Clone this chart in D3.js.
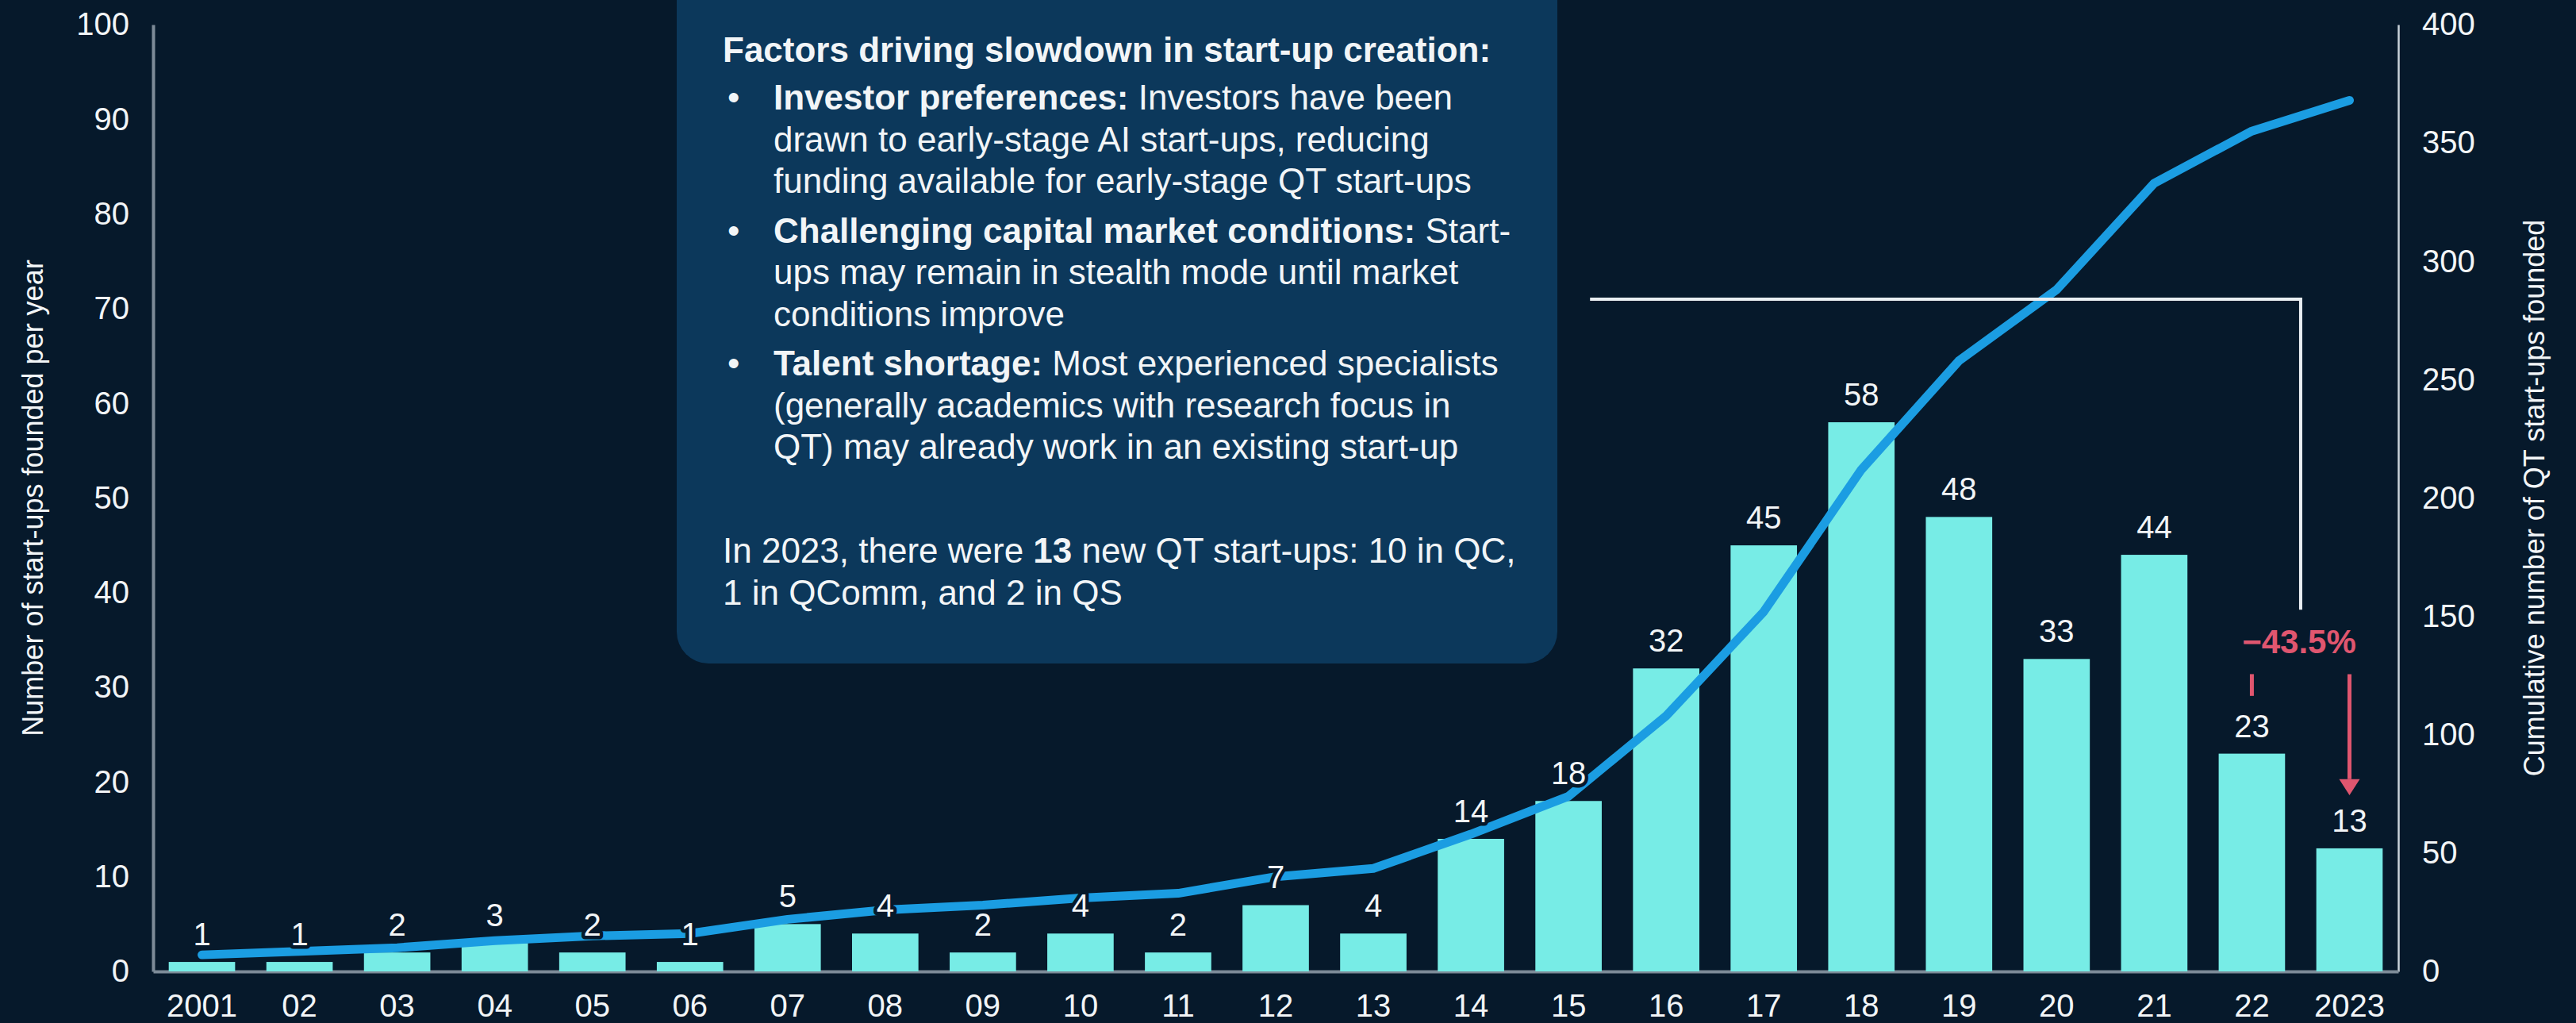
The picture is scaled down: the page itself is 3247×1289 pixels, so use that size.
<!DOCTYPE html>
<html>
<head>
<meta charset="utf-8">
<script src="https://cdn.jsdelivr.net/npm/d3@7"></script>
<style>
  html, body { margin: 0; padding: 0; background: #06192b; }
  svg { display: block; }
  text { font-family: "Liberation Sans", Arial, sans-serif; }
</style>
</head>
<body>
<svg id="chart" width="3247" height="1289"></svg>
<script>
// ---------------- DATA ----------------
const years = ["2001","02","03","04","05","06","07","08","09","10","11","12","13","14","15","16","17","18","19","20","21","22","2023"];
const perYear = [1,1,2,3,2,1,5,4,2,4,2,7,4,14,18,32,45,58,48,33,44,23,13];
const cumulative = [7,8.5,10,13,15,16,22,26,28,31,33,40,43.5,58,74,108,152,212,258,288,333,355,368];
const leftTicks = [0,10,20,30,40,50,60,70,80,90,100];
const rightTicks = [0,50,100,150,200,250,300,350,400];
const leftTitle = "Number of start-ups founded per year";
const rightTitle = "Cumulative number of QT start-ups founded";
const changeLabel = "\u221243.5%";
const boxTitle = "Factors driving slowdown in start-up creation:";
const boxBullets = [
  [[["Investor preferences:", true], [" Investors have been", false]],
   [["drawn to early-stage AI start-ups, reducing", false]],
   [["funding available for early-stage QT start-ups", false]]],
  [[["Challenging capital market conditions:", true], [" Start-", false]],
   [["ups may remain in stealth mode until market", false]],
   [["conditions improve", false]]],
  [[["Talent shortage:", true], [" Most experienced specialists", false]],
   [["(generally academics with research focus in", false]],
   [["QT) may already work in an existing start-up", false]]]
];
const boxFooter = [
  [["In 2023, there were ", false], ["13", true], [" new QT start-ups: 10 in QC,", false]],
  [["1 in QComm, and 2 in QS", false]]
];

// ---------------- STYLE ----------------
const BG = "#06192b", BOX = "#0c385b", BAR = "#77ece6", LINE = "#1b9de2",
      RED = "#e0566f", TXT = "#f2f5f7", AXIS = "#7d8b98";

const svg = d3.select("#chart");
svg.append("rect").attr("width", 3247).attr("height", 1289).attr("fill", BG);

const plotL = 193, plotR = 3023, plotT = 31, plotB = 1224;

const x = d3.scaleBand().domain(years).range([plotL, plotR]).paddingInner(0.32).paddingOuter(0.16);
const xc = d => x(d) + x.bandwidth() / 2;
const y1 = d3.scaleLinear().domain([0, 100]).range([plotB, plotT]);
const y2 = d3.scaleLinear().domain([0, 400]).range([plotB, plotT]);

// ---------------- TEXT BOX ----------------
const box = svg.append("g");
box.append("rect").attr("x", 853).attr("y", -40).attr("width", 1110).attr("height", 876)
  .attr("rx", 40).attr("fill", BOX);

const fs = 44, lh = 52.5;
function addLine(g, xPos, yPos, segs) {
  const t = g.append("text").attr("x", xPos).attr("y", yPos)
    .attr("fill", TXT).attr("font-size", fs);
  segs.forEach(s => t.append("tspan").text(s[0]).attr("font-weight", s[1] ? "bold" : "normal"));
}
addLine(box, 911, 78, [[boxTitle, true]]);
let yy = 78 + 60;
boxBullets.forEach(b => {
  box.append("text").attr("x", 917).attr("y", yy).attr("fill", TXT).attr("font-size", fs).text("\u2022");
  b.forEach(line => { addLine(box, 975, yy, line); yy += lh; });
  yy += 10;
});
yy = 709;
boxFooter.forEach(line => { addLine(box, 911, yy, line); yy += lh; });

// ---------------- AXES ----------------
const axL = svg.append("g").attr("transform", `translate(${plotL},0)`)
  .call(d3.axisLeft(y1).tickValues(leftTicks).tickSize(0).tickPadding(30));
const axR = svg.append("g").attr("transform", `translate(${plotR},0)`)
  .call(d3.axisRight(y2).tickValues(rightTicks).tickSize(0).tickPadding(30));
const axB = svg.append("g").attr("transform", `translate(0,${plotB})`)
  .call(d3.axisBottom(x).tickSize(0).tickPadding(29));

[axL, axR, axB].forEach(a => {
  a.selectAll("text").attr("fill", TXT).attr("font-size", 40)
    .attr("font-family", '"Liberation Sans", Arial, sans-serif');
});
axL.select(".domain").attr("stroke", AXIS).attr("stroke-width", 4);
axB.select(".domain").attr("stroke", AXIS).attr("stroke-width", 4);
axR.select(".domain").attr("stroke", "#c9d2da").attr("stroke-width", 2.5);

// axis titles
svg.append("text").attr("transform", `translate(54,${(plotT + plotB) / 2}) rotate(-90)`)
  .attr("text-anchor", "middle").attr("fill", TXT).attr("font-size", 36).text(leftTitle);
svg.append("text").attr("transform", `translate(3207,${(plotT + plotB) / 2}) rotate(-90)`)
  .attr("text-anchor", "middle").attr("fill", TXT).attr("font-size", 36).text(rightTitle);

// ---------------- BARS ----------------
svg.append("g").selectAll("rect").data(perYear).join("rect")
  .attr("x", (d, i) => x(years[i])).attr("width", x.bandwidth())
  .attr("y", d => y1(d)).attr("height", d => plotB - y1(d))
  .attr("fill", BAR);

// ---------------- CUMULATIVE LINE ----------------
const line = d3.line().x((d, i) => xc(years[i])).y(d => y2(d));
svg.append("path").datum(cumulative).attr("d", line)
  .attr("fill", "none").attr("stroke", LINE).attr("stroke-width", 11)
  .attr("stroke-linejoin", "round").attr("stroke-linecap", "round");

// ---------------- BAR LABELS ----------------
svg.append("g").selectAll("text").data(perYear).join("text")
  .attr("x", (d, i) => xc(years[i])).attr("y", d => y1(d) - 21)
  .attr("text-anchor", "middle").attr("font-size", 40).attr("fill", TXT)
  .attr("stroke", BG).attr("stroke-width", 9).attr("paint-order", "stroke")
  .attr("stroke-linejoin", "round")
  .text(d => d);

// ---------------- ANNOTATION ----------------
const step = x.step();
const iLast = years.length - 1;
const xMid = (xc(years[iLast - 1]) + xc(years[iLast])) / 2;
const yBr = y1(71);
svg.append("path")
  .attr("d", `M${xc("15") + 0.22 * step},${yBr} H${xMid} V${y1(38.2)}`)
  .attr("fill", "none").attr("stroke", "#e9eef2").attr("stroke-width", 4);

svg.append("text").attr("x", xMid - 2).attr("y", y1(33.6))
  .attr("text-anchor", "middle").attr("font-size", 42).attr("font-weight", "bold")
  .attr("fill", RED).text(changeLabel);

svg.append("line").attr("x1", xc(years[iLast - 1])).attr("x2", xc(years[iLast - 1]))
  .attr("y1", y1(31.4)).attr("y2", y1(29.1)).attr("stroke", RED).attr("stroke-width", 5);

const ax = xc(years[iLast]);
svg.append("line").attr("x1", ax).attr("x2", ax)
  .attr("y1", y1(31.4)).attr("y2", y1(20.3)).attr("stroke", RED).attr("stroke-width", 5);
svg.append("path")
  .attr("d", `M${ax - 13},${y1(20.3)} L${ax + 13},${y1(20.3)} L${ax},${y1(18.6)} Z`)
  .attr("fill", RED);
</script>
</body>
</html>
